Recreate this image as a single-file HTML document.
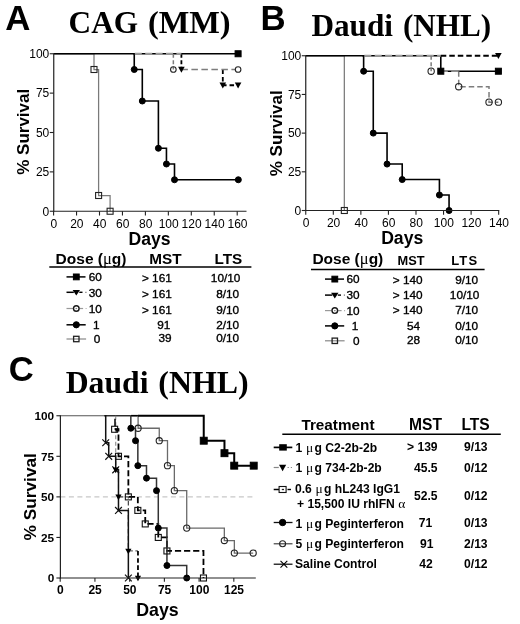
<!DOCTYPE html>
<html><head><meta charset="utf-8"><title>Figure</title>
<style>
html,body{margin:0;padding:0;background:#fff;}
body{width:520px;height:624px;overflow:hidden;font-family:"Liberation Sans",sans-serif;}
svg{display:block;will-change:transform;}
</style></head><body>
<svg width="520" height="624" viewBox="0 0 520 624">
<rect width="520" height="624" fill="#fff"/>
<g>
<text x="5.30" y="29.50" font-family='"Liberation Sans", sans-serif' font-size="34.8" font-weight="bold" text-anchor="start" fill="#000">A</text>
<text x="68.60" y="33.40" font-family='"Liberation Serif", serif' font-size="31.3" font-weight="bold" text-anchor="start" fill="#000">CAG</text>
<text x="147.90" y="33.40" font-family='"Liberation Serif", serif' font-size="32.4" font-weight="bold" text-anchor="start" fill="#000">(MM)</text>
<path d="M53.75 53.75 L94.00 53.75 L94.00 69.50 L98.60 69.50 L98.60 195.50 L110.10 195.50 L110.10 211.25" fill="none" stroke="#7a7a7a" stroke-width="1.25" stroke-linejoin="miter"/>
<path d="M53.75 53.75 L238.09 53.75" fill="none" stroke="#000" stroke-width="1.6" stroke-linejoin="miter"/>
<path d="M133.10 53.75 L134.25 53.75 L134.25 69.50 L142.30 69.50 L142.30 101.00 L158.40 101.00 L158.40 148.25 L166.45 148.25 L166.45 164.00 L174.50 164.00 L174.50 179.75 L238.32 179.75" fill="none" stroke="#000" stroke-width="1.6" stroke-linejoin="miter"/>
<path d="M181.40 53.75 L181.40 69.50" fill="none" stroke="#000" stroke-width="1.8" stroke-dasharray="4 2.5" stroke-linejoin="miter"/>
<path d="M222.80 69.50 L222.80 85.25 L238.09 85.25" fill="none" stroke="#000" stroke-width="1.8" stroke-dasharray="4.5 3" stroke-linejoin="miter"/>
<path d="M134.82 53.75 L181.40 53.75" fill="none" stroke="#9c9c9c" stroke-width="1.8" stroke-dasharray="7 3.4" stroke-linejoin="miter"/>
<path d="M173.35 53.75 L173.35 69.50" fill="none" stroke="#7d7d7d" stroke-width="1.5" stroke-dasharray="4 2.5" stroke-linejoin="miter"/>
<path d="M181.40 69.50 L234.99 69.50" fill="none" stroke="#7d7d7d" stroke-width="1.5" stroke-dasharray="6.5 3.5" stroke-linejoin="miter"/>
<rect x="91.00" y="66.50" width="6.00" height="6.00" fill="none" stroke="#222" stroke-width="1.1"/>
<rect x="95.60" y="192.50" width="6.00" height="6.00" fill="none" stroke="#222" stroke-width="1.1"/>
<rect x="107.10" y="208.25" width="6.00" height="6.00" fill="none" stroke="#222" stroke-width="1.1"/>
<circle cx="134.25" cy="69.50" r="3.0" fill="#000" stroke="#000" stroke-width="1"/>
<circle cx="142.30" cy="101.00" r="3.0" fill="#000" stroke="#000" stroke-width="1"/>
<circle cx="158.40" cy="148.25" r="3.0" fill="#000" stroke="#000" stroke-width="1"/>
<circle cx="166.45" cy="164.00" r="3.0" fill="#000" stroke="#000" stroke-width="1"/>
<circle cx="174.50" cy="179.75" r="3.0" fill="#000" stroke="#000" stroke-width="1"/>
<circle cx="238.32" cy="179.75" r="3.0" fill="#000" stroke="#000" stroke-width="1"/>
<rect x="235.09" y="50.75" width="6.00" height="6.00" fill="#000" stroke="#000" stroke-width="1"/>
<path d="M178.10 66.86 L184.70 66.86 L181.40 72.80 Z" fill="#000"/>
<path d="M219.50 82.61 L226.10 82.61 L222.80 88.55 Z" fill="#000"/>
<path d="M234.79 82.61 L241.40 82.61 L238.09 88.55 Z" fill="#000"/>
<circle cx="173.35" cy="69.50" r="2.8" fill="none" stroke="#222" stroke-width="1.1"/>
<circle cx="238.09" cy="69.50" r="2.8" fill="none" stroke="#222" stroke-width="1.1"/>
<line x1="53.75" y1="53.25" x2="53.75" y2="211.85" stroke="#222" stroke-width="1.2" stroke-linecap="butt"/>
<line x1="53.15" y1="211.25" x2="246.50" y2="211.25" stroke="#222" stroke-width="1.2" stroke-linecap="butt"/>
<line x1="49.75" y1="211.25" x2="53.75" y2="211.25" stroke="#222" stroke-width="1.1" stroke-linecap="butt"/>
<text x="49.25" y="215.55" font-family='"Liberation Sans", sans-serif' font-size="12" font-weight="normal" text-anchor="end" fill="#000">0</text>
<line x1="49.75" y1="171.88" x2="53.75" y2="171.88" stroke="#222" stroke-width="1.1" stroke-linecap="butt"/>
<text x="49.25" y="176.18" font-family='"Liberation Sans", sans-serif' font-size="12" font-weight="normal" text-anchor="end" fill="#000">25</text>
<line x1="49.75" y1="132.50" x2="53.75" y2="132.50" stroke="#222" stroke-width="1.1" stroke-linecap="butt"/>
<text x="49.25" y="136.80" font-family='"Liberation Sans", sans-serif' font-size="12" font-weight="normal" text-anchor="end" fill="#000">50</text>
<line x1="49.75" y1="93.12" x2="53.75" y2="93.12" stroke="#222" stroke-width="1.1" stroke-linecap="butt"/>
<text x="49.25" y="97.42" font-family='"Liberation Sans", sans-serif' font-size="12" font-weight="normal" text-anchor="end" fill="#000">75</text>
<line x1="49.75" y1="53.75" x2="53.75" y2="53.75" stroke="#222" stroke-width="1.1" stroke-linecap="butt"/>
<text x="49.25" y="58.05" font-family='"Liberation Sans", sans-serif' font-size="12" font-weight="normal" text-anchor="end" fill="#000">100</text>
<line x1="53.60" y1="211.25" x2="53.60" y2="215.55" stroke="#222" stroke-width="1.1" stroke-linecap="butt"/>
<text x="53.90" y="227.65" font-family='"Liberation Sans", sans-serif' font-size="12" font-weight="normal" text-anchor="middle" fill="#000">0</text>
<line x1="76.55" y1="211.25" x2="76.55" y2="215.55" stroke="#222" stroke-width="1.1" stroke-linecap="butt"/>
<text x="76.85" y="227.65" font-family='"Liberation Sans", sans-serif' font-size="12" font-weight="normal" text-anchor="middle" fill="#000">20</text>
<line x1="99.50" y1="211.25" x2="99.50" y2="215.55" stroke="#222" stroke-width="1.1" stroke-linecap="butt"/>
<text x="99.80" y="227.65" font-family='"Liberation Sans", sans-serif' font-size="12" font-weight="normal" text-anchor="middle" fill="#000">40</text>
<line x1="122.45" y1="211.25" x2="122.45" y2="215.55" stroke="#222" stroke-width="1.1" stroke-linecap="butt"/>
<text x="122.75" y="227.65" font-family='"Liberation Sans", sans-serif' font-size="12" font-weight="normal" text-anchor="middle" fill="#000">60</text>
<line x1="145.40" y1="211.25" x2="145.40" y2="215.55" stroke="#222" stroke-width="1.1" stroke-linecap="butt"/>
<text x="145.70" y="227.65" font-family='"Liberation Sans", sans-serif' font-size="12" font-weight="normal" text-anchor="middle" fill="#000">80</text>
<line x1="168.35" y1="211.25" x2="168.35" y2="215.55" stroke="#222" stroke-width="1.1" stroke-linecap="butt"/>
<text x="168.65" y="227.65" font-family='"Liberation Sans", sans-serif' font-size="12" font-weight="normal" text-anchor="middle" fill="#000">100</text>
<line x1="191.30" y1="211.25" x2="191.30" y2="215.55" stroke="#222" stroke-width="1.1" stroke-linecap="butt"/>
<text x="191.60" y="227.65" font-family='"Liberation Sans", sans-serif' font-size="12" font-weight="normal" text-anchor="middle" fill="#000">120</text>
<line x1="214.25" y1="211.25" x2="214.25" y2="215.55" stroke="#222" stroke-width="1.1" stroke-linecap="butt"/>
<text x="214.55" y="227.65" font-family='"Liberation Sans", sans-serif' font-size="12" font-weight="normal" text-anchor="middle" fill="#000">140</text>
<line x1="237.20" y1="211.25" x2="237.20" y2="215.55" stroke="#222" stroke-width="1.1" stroke-linecap="butt"/>
<text x="237.50" y="227.65" font-family='"Liberation Sans", sans-serif' font-size="12" font-weight="normal" text-anchor="middle" fill="#000">160</text>
<text x="149.60" y="244.60" font-family='"Liberation Sans", sans-serif' font-size="17.6" font-weight="bold" text-anchor="middle" fill="#000">Days</text>
<text transform="translate(29.3,131.8) rotate(-90)" font-family='"Liberation Sans", sans-serif' font-size="17" font-weight="bold" text-anchor="middle">% Survival</text>
<text x="260.40" y="29.50" font-family='"Liberation Sans", sans-serif' font-size="34.8" font-weight="bold" text-anchor="start" fill="#000">B</text>
<text x="311.50" y="35.50" font-family='"Liberation Serif", serif' font-size="31.2" font-weight="bold" text-anchor="start" fill="#000">Daudi</text>
<text x="402.90" y="35.50" font-family='"Liberation Serif", serif' font-size="31.2" font-weight="bold" text-anchor="start" fill="#000">(NHL)</text>
<path d="M305.75 55.75 L344.33 55.75 L344.33 210.50" fill="none" stroke="#7a7a7a" stroke-width="1.25" stroke-linejoin="miter"/>
<path d="M305.75 55.75 L440.79 55.75 L440.79 71.22 L498.39 71.22" fill="none" stroke="#000" stroke-width="1.6" stroke-linejoin="miter"/>
<path d="M362.25 55.75 L363.63 55.75 L363.63 71.22 L373.27 71.22 L373.27 133.12 L387.05 133.12 L387.05 164.07 L402.21 164.07 L402.21 179.55 L439.42 179.55 L439.42 195.03 L449.06 195.03 L449.06 210.50" fill="none" stroke="#000" stroke-width="1.6" stroke-linejoin="miter"/>
<path d="M440.79 55.75 L498.39 55.75" fill="none" stroke="#000" stroke-width="1.8" stroke-dasharray="5.5 3" stroke-linejoin="miter"/>
<path d="M364.31 55.75 L440.79 55.75" fill="none" stroke="#9c9c9c" stroke-width="1.8" stroke-dasharray="7 3.4" stroke-linejoin="miter"/>
<path d="M431.15 55.75 L431.15 71.22" fill="none" stroke="#7d7d7d" stroke-width="1.5" stroke-dasharray="4 2.5" stroke-linejoin="miter"/>
<path d="M440.79 71.22 L458.71 71.22" fill="none" stroke="#8c8c8c" stroke-width="1.7" stroke-dasharray="7 3.4" stroke-linejoin="miter"/>
<path d="M458.71 71.22 L458.71 86.70 L489.02 86.70 L489.02 102.17 L498.39 102.17" fill="none" stroke="#7d7d7d" stroke-width="1.5" stroke-dasharray="5.5 3" stroke-linejoin="miter"/>
<rect x="341.33" y="207.50" width="6.00" height="6.00" fill="none" stroke="#222" stroke-width="1.1"/>
<circle cx="363.63" cy="71.22" r="3.0" fill="#000" stroke="#000" stroke-width="1"/>
<circle cx="373.27" cy="133.12" r="3.0" fill="#000" stroke="#000" stroke-width="1"/>
<circle cx="387.05" cy="164.07" r="3.0" fill="#000" stroke="#000" stroke-width="1"/>
<circle cx="402.21" cy="179.55" r="3.0" fill="#000" stroke="#000" stroke-width="1"/>
<circle cx="439.42" cy="195.03" r="3.0" fill="#000" stroke="#000" stroke-width="1"/>
<circle cx="449.06" cy="210.50" r="3.0" fill="#000" stroke="#000" stroke-width="1"/>
<rect x="437.79" y="68.22" width="6.00" height="6.00" fill="#000" stroke="#000" stroke-width="1"/>
<rect x="495.39" y="68.22" width="6.00" height="6.00" fill="#000" stroke="#000" stroke-width="1"/>
<path d="M495.09 53.11 L501.69 53.11 L498.39 59.05 Z" fill="#000"/>
<circle cx="431.15" cy="71.22" r="3.15" fill="none" stroke="#222" stroke-width="1.1"/>
<circle cx="458.71" cy="86.70" r="3.15" fill="none" stroke="#222" stroke-width="1.1"/>
<circle cx="489.02" cy="102.17" r="3.15" fill="none" stroke="#222" stroke-width="1.1"/>
<circle cx="498.39" cy="102.17" r="3.15" fill="none" stroke="#222" stroke-width="1.1"/>
<line x1="305.75" y1="55.25" x2="305.75" y2="211.10" stroke="#222" stroke-width="1.2" stroke-linecap="butt"/>
<line x1="305.15" y1="210.50" x2="499.27" y2="210.50" stroke="#222" stroke-width="1.2" stroke-linecap="butt"/>
<line x1="301.75" y1="210.50" x2="305.75" y2="210.50" stroke="#222" stroke-width="1.1" stroke-linecap="butt"/>
<text x="301.25" y="214.80" font-family='"Liberation Sans", sans-serif' font-size="12" font-weight="normal" text-anchor="end" fill="#000">0</text>
<line x1="301.75" y1="171.81" x2="305.75" y2="171.81" stroke="#222" stroke-width="1.1" stroke-linecap="butt"/>
<text x="301.25" y="176.11" font-family='"Liberation Sans", sans-serif' font-size="12" font-weight="normal" text-anchor="end" fill="#000">25</text>
<line x1="301.75" y1="133.12" x2="305.75" y2="133.12" stroke="#222" stroke-width="1.1" stroke-linecap="butt"/>
<text x="301.25" y="137.43" font-family='"Liberation Sans", sans-serif' font-size="12" font-weight="normal" text-anchor="end" fill="#000">50</text>
<line x1="301.75" y1="94.44" x2="305.75" y2="94.44" stroke="#222" stroke-width="1.1" stroke-linecap="butt"/>
<text x="301.25" y="98.74" font-family='"Liberation Sans", sans-serif' font-size="12" font-weight="normal" text-anchor="end" fill="#000">75</text>
<line x1="301.75" y1="55.75" x2="305.75" y2="55.75" stroke="#222" stroke-width="1.1" stroke-linecap="butt"/>
<text x="301.25" y="60.05" font-family='"Liberation Sans", sans-serif' font-size="12" font-weight="normal" text-anchor="end" fill="#000">100</text>
<line x1="305.75" y1="210.50" x2="305.75" y2="214.80" stroke="#222" stroke-width="1.1" stroke-linecap="butt"/>
<text x="306.05" y="226.90" font-family='"Liberation Sans", sans-serif' font-size="12" font-weight="normal" text-anchor="middle" fill="#000">0</text>
<line x1="333.31" y1="210.50" x2="333.31" y2="214.80" stroke="#222" stroke-width="1.1" stroke-linecap="butt"/>
<text x="333.61" y="226.90" font-family='"Liberation Sans", sans-serif' font-size="12" font-weight="normal" text-anchor="middle" fill="#000">20</text>
<line x1="360.87" y1="210.50" x2="360.87" y2="214.80" stroke="#222" stroke-width="1.1" stroke-linecap="butt"/>
<text x="361.17" y="226.90" font-family='"Liberation Sans", sans-serif' font-size="12" font-weight="normal" text-anchor="middle" fill="#000">40</text>
<line x1="388.43" y1="210.50" x2="388.43" y2="214.80" stroke="#222" stroke-width="1.1" stroke-linecap="butt"/>
<text x="388.73" y="226.90" font-family='"Liberation Sans", sans-serif' font-size="12" font-weight="normal" text-anchor="middle" fill="#000">60</text>
<line x1="415.99" y1="210.50" x2="415.99" y2="214.80" stroke="#222" stroke-width="1.1" stroke-linecap="butt"/>
<text x="416.29" y="226.90" font-family='"Liberation Sans", sans-serif' font-size="12" font-weight="normal" text-anchor="middle" fill="#000">80</text>
<line x1="443.55" y1="210.50" x2="443.55" y2="214.80" stroke="#222" stroke-width="1.1" stroke-linecap="butt"/>
<text x="443.85" y="226.90" font-family='"Liberation Sans", sans-serif' font-size="12" font-weight="normal" text-anchor="middle" fill="#000">100</text>
<line x1="471.11" y1="210.50" x2="471.11" y2="214.80" stroke="#222" stroke-width="1.1" stroke-linecap="butt"/>
<text x="471.41" y="226.90" font-family='"Liberation Sans", sans-serif' font-size="12" font-weight="normal" text-anchor="middle" fill="#000">120</text>
<line x1="498.67" y1="210.50" x2="498.67" y2="214.80" stroke="#222" stroke-width="1.1" stroke-linecap="butt"/>
<text x="498.97" y="226.90" font-family='"Liberation Sans", sans-serif' font-size="12" font-weight="normal" text-anchor="middle" fill="#000">140</text>
<text x="402.20" y="243.60" font-family='"Liberation Sans", sans-serif' font-size="17.6" font-weight="bold" text-anchor="middle" fill="#000">Days</text>
<text transform="translate(282,133.3) rotate(-90)" font-family='"Liberation Sans", sans-serif' font-size="17" font-weight="bold" text-anchor="middle">% Survival</text>
<text x="55.60" y="263.60" font-family='"Liberation Sans", sans-serif' font-size="15.5" font-weight="bold" text-anchor="start" fill="#000">Dose (<tspan font-family='"Liberation Serif",serif' font-weight="normal" font-size="16.5">&#956;</tspan>g)</text>
<text x="149.20" y="263.60" font-family='"Liberation Sans", sans-serif' font-size="15.3" font-weight="bold" text-anchor="start" fill="#000">MST</text>
<text x="214.50" y="263.60" font-family='"Liberation Sans", sans-serif' font-size="15.3" font-weight="bold" text-anchor="start" fill="#000">LTS</text>
<line x1="49.30" y1="266.90" x2="251.40" y2="266.90" stroke="#000" stroke-width="1.5" stroke-linecap="butt"/>
<line x1="66.50" y1="276.90" x2="85.50" y2="276.90" stroke="#000" stroke-width="1.5" stroke-linecap="butt"/>
<rect x="73.40" y="274.00" width="5.80" height="5.80" fill="#000" stroke="#000" stroke-width="1"/>
<text x="101.80" y="281.30" font-family='"Liberation Sans", sans-serif' font-size="11.8" font-weight="normal" text-anchor="end" fill="#000" stroke="#000" stroke-width="0.35">60</text>
<text x="171.80" y="281.90" font-family='"Liberation Sans", sans-serif' font-size="11.8" font-weight="normal" text-anchor="end" fill="#000" stroke="#000" stroke-width="0.35">&gt; 161</text>
<text x="240.40" y="281.90" font-family='"Liberation Sans", sans-serif' font-size="11.8" font-weight="normal" text-anchor="end" fill="#000" stroke="#000" stroke-width="0.35">10/10</text>
<line x1="66.50" y1="292.30" x2="73.80" y2="292.30" stroke="#000" stroke-width="1.5" stroke-linecap="butt"/>
<path d="M72.60 289.90 L80.00 289.90 L76.30 295.60 Z" fill="#000"/>
<line x1="79.30" y1="292.30" x2="82.50" y2="292.30" stroke="#000" stroke-width="1.4" stroke-linecap="butt"/>
<line x1="85.30" y1="292.30" x2="86.50" y2="292.30" stroke="#777" stroke-width="1.2" stroke-linecap="butt"/>
<text x="101.80" y="297.30" font-family='"Liberation Sans", sans-serif' font-size="11.8" font-weight="normal" text-anchor="end" fill="#000" stroke="#000" stroke-width="0.35">30</text>
<text x="171.80" y="298.20" font-family='"Liberation Sans", sans-serif' font-size="11.8" font-weight="normal" text-anchor="end" fill="#000" stroke="#000" stroke-width="0.35">&gt; 161</text>
<text x="239.20" y="298.20" font-family='"Liberation Sans", sans-serif' font-size="11.8" font-weight="normal" text-anchor="end" fill="#000" stroke="#000" stroke-width="0.35">8/10</text>
<line x1="66.50" y1="308.50" x2="73.00" y2="308.50" stroke="#999" stroke-width="1.2" stroke-linecap="butt"/>
<line x1="75.50" y1="308.50" x2="77.10" y2="308.50" stroke="#888" stroke-width="1.2" stroke-linecap="butt"/>
<line x1="79.60" y1="308.50" x2="83.10" y2="308.50" stroke="#999" stroke-width="1.2" stroke-linecap="butt"/>
<line x1="85.60" y1="308.50" x2="86.60" y2="308.50" stroke="#aaa" stroke-width="1.2" stroke-linecap="butt"/>
<circle cx="76.30" cy="308.50" r="2.8" fill="none" stroke="#1a1a1a" stroke-width="1.4"/>
<text x="101.80" y="312.90" font-family='"Liberation Sans", sans-serif' font-size="11.8" font-weight="normal" text-anchor="end" fill="#000" stroke="#000" stroke-width="0.35">10</text>
<text x="171.80" y="313.50" font-family='"Liberation Sans", sans-serif' font-size="11.8" font-weight="normal" text-anchor="end" fill="#000" stroke="#000" stroke-width="0.35">&gt; 161</text>
<text x="239.20" y="313.50" font-family='"Liberation Sans", sans-serif' font-size="11.8" font-weight="normal" text-anchor="end" fill="#000" stroke="#000" stroke-width="0.35">9/10</text>
<line x1="66.50" y1="324.80" x2="85.70" y2="324.80" stroke="#000" stroke-width="1.5" stroke-linecap="butt"/>
<circle cx="76.30" cy="324.80" r="3.1" fill="#000" stroke="#000" stroke-width="1"/>
<text x="99.60" y="329.00" font-family='"Liberation Sans", sans-serif' font-size="11.8" font-weight="normal" text-anchor="end" fill="#000" stroke="#000" stroke-width="0.35">1</text>
<text x="170.30" y="329.20" font-family='"Liberation Sans", sans-serif' font-size="11.8" font-weight="normal" text-anchor="end" fill="#000" stroke="#000" stroke-width="0.35">91</text>
<text x="239.20" y="329.40" font-family='"Liberation Sans", sans-serif' font-size="11.8" font-weight="normal" text-anchor="end" fill="#000" stroke="#000" stroke-width="0.35">2/10</text>
<line x1="66.50" y1="339.00" x2="86.10" y2="339.00" stroke="#888" stroke-width="1.2" stroke-linecap="butt"/>
<rect x="73.60" y="336.30" width="5.40" height="5.40" fill="none" stroke="#222" stroke-width="1.3"/>
<text x="100.40" y="343.20" font-family='"Liberation Sans", sans-serif' font-size="11.8" font-weight="normal" text-anchor="end" fill="#000" stroke="#000" stroke-width="0.35">0</text>
<text x="171.60" y="342.20" font-family='"Liberation Sans", sans-serif' font-size="11.8" font-weight="normal" text-anchor="end" fill="#000" stroke="#000" stroke-width="0.35">39</text>
<text x="239.20" y="342.00" font-family='"Liberation Sans", sans-serif' font-size="11.8" font-weight="normal" text-anchor="end" fill="#000" stroke="#000" stroke-width="0.35">0/10</text>
<text x="312.40" y="263.90" font-family='"Liberation Sans", sans-serif' font-size="15.5" font-weight="bold" text-anchor="start" fill="#000">Dose (<tspan font-family='"Liberation Serif",serif' font-weight="normal" font-size="16.5">&#956;</tspan>g)</text>
<text x="397.60" y="264.50" font-family='"Liberation Sans", sans-serif' font-size="12.8" font-weight="bold" text-anchor="start" fill="#000">MST</text>
<text x="451.20" y="264.50" font-family='"Liberation Sans", sans-serif' font-size="13.0" font-weight="bold" text-anchor="start" fill="#000" letter-spacing="1.2">LTS</text>
<line x1="311.00" y1="269.50" x2="484.60" y2="269.50" stroke="#000" stroke-width="1.5" stroke-linecap="butt"/>
<line x1="325.00" y1="279.10" x2="344.00" y2="279.10" stroke="#000" stroke-width="1.5" stroke-linecap="butt"/>
<rect x="331.90" y="276.20" width="5.80" height="5.80" fill="#000" stroke="#000" stroke-width="1"/>
<text x="359.60" y="283.30" font-family='"Liberation Sans", sans-serif' font-size="11.8" font-weight="normal" text-anchor="end" fill="#000" stroke="#000" stroke-width="0.35">60</text>
<text x="422.60" y="283.60" font-family='"Liberation Sans", sans-serif' font-size="11.8" font-weight="normal" text-anchor="end" fill="#000" stroke="#000" stroke-width="0.35">&gt; 140</text>
<text x="478.20" y="283.60" font-family='"Liberation Sans", sans-serif' font-size="11.8" font-weight="normal" text-anchor="end" fill="#000" stroke="#000" stroke-width="0.35">9/10</text>
<line x1="325.00" y1="295.10" x2="332.30" y2="295.10" stroke="#000" stroke-width="1.5" stroke-linecap="butt"/>
<path d="M331.10 292.70 L338.50 292.70 L334.80 298.40 Z" fill="#000"/>
<line x1="337.80" y1="295.10" x2="341.00" y2="295.10" stroke="#000" stroke-width="1.4" stroke-linecap="butt"/>
<line x1="343.80" y1="295.10" x2="345.00" y2="295.10" stroke="#777" stroke-width="1.2" stroke-linecap="butt"/>
<text x="359.60" y="299.30" font-family='"Liberation Sans", sans-serif' font-size="11.8" font-weight="normal" text-anchor="end" fill="#000" stroke="#000" stroke-width="0.35">30</text>
<text x="422.60" y="299.30" font-family='"Liberation Sans", sans-serif' font-size="11.8" font-weight="normal" text-anchor="end" fill="#000" stroke="#000" stroke-width="0.35">&gt; 140</text>
<text x="479.40" y="299.40" font-family='"Liberation Sans", sans-serif' font-size="11.8" font-weight="normal" text-anchor="end" fill="#000" stroke="#000" stroke-width="0.35">10/10</text>
<line x1="325.00" y1="310.60" x2="331.50" y2="310.60" stroke="#999" stroke-width="1.2" stroke-linecap="butt"/>
<line x1="334.00" y1="310.60" x2="335.60" y2="310.60" stroke="#888" stroke-width="1.2" stroke-linecap="butt"/>
<line x1="338.10" y1="310.60" x2="341.60" y2="310.60" stroke="#999" stroke-width="1.2" stroke-linecap="butt"/>
<line x1="344.10" y1="310.60" x2="345.10" y2="310.60" stroke="#aaa" stroke-width="1.2" stroke-linecap="butt"/>
<circle cx="334.80" cy="310.60" r="2.8" fill="none" stroke="#1a1a1a" stroke-width="1.4"/>
<text x="359.60" y="314.80" font-family='"Liberation Sans", sans-serif' font-size="11.8" font-weight="normal" text-anchor="end" fill="#000" stroke="#000" stroke-width="0.35">10</text>
<text x="422.60" y="314.20" font-family='"Liberation Sans", sans-serif' font-size="11.8" font-weight="normal" text-anchor="end" fill="#000" stroke="#000" stroke-width="0.35">&gt; 140</text>
<text x="478.20" y="314.20" font-family='"Liberation Sans", sans-serif' font-size="11.8" font-weight="normal" text-anchor="end" fill="#000" stroke="#000" stroke-width="0.35">7/10</text>
<line x1="325.00" y1="325.90" x2="344.20" y2="325.90" stroke="#000" stroke-width="1.5" stroke-linecap="butt"/>
<circle cx="334.80" cy="325.90" r="3.1" fill="#000" stroke="#000" stroke-width="1"/>
<text x="358.40" y="330.10" font-family='"Liberation Sans", sans-serif' font-size="11.8" font-weight="normal" text-anchor="end" fill="#000" stroke="#000" stroke-width="0.35">1</text>
<text x="420.10" y="329.50" font-family='"Liberation Sans", sans-serif' font-size="11.8" font-weight="normal" text-anchor="end" fill="#000" stroke="#000" stroke-width="0.35">54</text>
<text x="478.20" y="329.50" font-family='"Liberation Sans", sans-serif' font-size="11.8" font-weight="normal" text-anchor="end" fill="#000" stroke="#000" stroke-width="0.35">0/10</text>
<line x1="325.00" y1="340.80" x2="344.60" y2="340.80" stroke="#888" stroke-width="1.2" stroke-linecap="butt"/>
<rect x="332.10" y="338.10" width="5.40" height="5.40" fill="none" stroke="#222" stroke-width="1.3"/>
<text x="359.50" y="345.00" font-family='"Liberation Sans", sans-serif' font-size="11.8" font-weight="normal" text-anchor="end" fill="#000" stroke="#000" stroke-width="0.35">0</text>
<text x="420.10" y="343.80" font-family='"Liberation Sans", sans-serif' font-size="11.8" font-weight="normal" text-anchor="end" fill="#000" stroke="#000" stroke-width="0.35">28</text>
<text x="478.20" y="344.40" font-family='"Liberation Sans", sans-serif' font-size="11.8" font-weight="normal" text-anchor="end" fill="#000" stroke="#000" stroke-width="0.35">0/10</text>
<text x="8.80" y="381.00" font-family='"Liberation Sans", sans-serif' font-size="34.6" font-weight="bold" text-anchor="start" fill="#000">C</text>
<text x="65.70" y="393.30" font-family='"Liberation Serif", serif' font-size="31.7" font-weight="bold" text-anchor="start" fill="#000">Daudi</text>
<text x="158.30" y="393.30" font-family='"Liberation Serif", serif' font-size="31.9" font-weight="bold" text-anchor="start" fill="#000">(NHL)</text>
<line x1="60.40" y1="496.88" x2="252.50" y2="496.88" stroke="#c8c8c8" stroke-width="1.1" stroke-dasharray="5 3.5" stroke-linecap="butt"/>
<line x1="60.40" y1="415.75" x2="105.71" y2="415.75" stroke="#555" stroke-width="1.2" stroke-linecap="butt"/>
<line x1="105.71" y1="415.75" x2="130.83" y2="415.75" stroke="#222" stroke-width="1.4" stroke-linecap="butt"/>
<line x1="130.83" y1="415.75" x2="138.66" y2="415.75" stroke="#000" stroke-width="1.7" stroke-linecap="butt"/>
<path d="M138.11 415.75 L138.11 415.75 L138.11 428.23 L159.26 428.23 L159.26 440.71 L167.49 440.71 L167.49 465.67 L174.36 465.67 L174.36 490.63 L186.72 490.63 L186.72 528.08 L224.34 528.08 L224.34 540.56 L234.36 540.56 L234.36 553.04 L253.17 553.04" fill="none" stroke="#6a6a6a" stroke-width="1.3" stroke-linejoin="miter"/>
<path d="M115.73 415.75 L115.73 415.75 L115.73 469.83 L118.48 469.83 L118.48 496.88" fill="none" stroke="#8a8a8a" stroke-width="1.1" stroke-dasharray="4 2.5" stroke-linejoin="miter"/>
<path d="M118.48 496.88 L128.36 496.88 L128.36 550.96" fill="none" stroke="#4a4a4a" stroke-width="1.25" stroke-dasharray="4.5 2.5" stroke-linejoin="miter"/>
<path d="M128.36 550.96 L137.97 550.96" fill="none" stroke="#666" stroke-width="1.2" stroke-dasharray="4.5 2.5" stroke-linejoin="miter"/>
<path d="M137.97 550.96 L137.97 578.00" fill="none" stroke="#000" stroke-width="1.8" stroke-dasharray="4.6 2.6" stroke-linejoin="miter"/>
<path d="M104.34 415.75 L105.71 415.75 L105.71 442.79 L108.73 442.79 L108.73 456.31 L115.73 456.31 L115.73 469.83 L118.48 469.83 L118.48 510.40 L128.36 510.40 L128.36 578.00" fill="none" stroke="#111" stroke-width="1.5" stroke-linejoin="miter"/>
<line x1="115.00" y1="418.70" x2="115.00" y2="426.30" stroke="#111" stroke-width="1.6" stroke-linecap="butt"/>
<path d="M114.63 429.27 L118.48 429.27 L118.48 456.31 L128.36 456.31 L128.36 496.88 L137.84 496.88 L137.84 510.40 L145.25 510.40 L145.25 523.92 L158.29 523.92 L158.29 537.44 L166.94 537.44 L166.94 550.96 L203.47 550.96 L203.47 578.00" fill="none" stroke="#000" stroke-width="1.8" stroke-dasharray="6.2 2.9" stroke-dashoffset="0"/>
<path d="M130.83 415.75 L130.83 415.75 L130.83 428.23 L135.50 428.23 L135.50 440.71 L137.84 440.71 L137.84 465.67 L146.49 465.67 L146.49 478.15 L156.51 478.15 L156.51 490.63 L158.29 490.63 L158.29 528.08 L166.94 528.08 L166.94 565.52 L186.72 565.52 L186.72 578.00" fill="none" stroke="#333" stroke-width="1.5" stroke-linejoin="miter"/>
<path d="M138.11 415.75 L203.74 415.75 L203.74 440.71 L224.47 440.71 L224.47 453.19 L234.22 453.19 L234.22 465.67 L253.72 465.67" fill="none" stroke="#000" stroke-width="2.0" stroke-linejoin="miter"/>
<circle cx="138.11" cy="428.23" r="3.1" fill="none" stroke="#222" stroke-width="1.1"/>
<circle cx="159.26" cy="440.71" r="3.1" fill="none" stroke="#222" stroke-width="1.1"/>
<circle cx="167.49" cy="465.67" r="3.1" fill="none" stroke="#222" stroke-width="1.1"/>
<circle cx="174.36" cy="490.63" r="3.1" fill="none" stroke="#222" stroke-width="1.1"/>
<circle cx="186.72" cy="528.08" r="3.1" fill="none" stroke="#222" stroke-width="1.1"/>
<circle cx="224.34" cy="540.56" r="3.1" fill="none" stroke="#222" stroke-width="1.1"/>
<circle cx="234.36" cy="553.04" r="3.1" fill="none" stroke="#222" stroke-width="1.1"/>
<circle cx="253.17" cy="553.04" r="3.1" fill="none" stroke="#222" stroke-width="1.1"/>
<rect x="111.63" y="426.27" width="6.00" height="6.00" fill="none" stroke="#111" stroke-width="1.1"/>
<rect x="115.48" y="453.31" width="6.00" height="6.00" fill="none" stroke="#111" stroke-width="1.1"/>
<rect x="125.36" y="493.88" width="6.00" height="6.00" fill="none" stroke="#111" stroke-width="1.1"/>
<rect x="134.84" y="507.40" width="6.00" height="6.00" fill="none" stroke="#111" stroke-width="1.1"/>
<rect x="142.25" y="520.92" width="6.00" height="6.00" fill="none" stroke="#111" stroke-width="1.1"/>
<rect x="155.29" y="534.44" width="6.00" height="6.00" fill="none" stroke="#111" stroke-width="1.1"/>
<rect x="163.94" y="547.96" width="6.00" height="6.00" fill="none" stroke="#111" stroke-width="1.1"/>
<rect x="200.47" y="575.00" width="6.00" height="6.00" fill="none" stroke="#111" stroke-width="1.1"/>
<path d="M102.31 439.39 L109.11 446.19 M102.31 446.19 L109.11 439.39" stroke="#111" stroke-width="1.2" fill="none"/>
<path d="M105.33 452.91 L112.13 459.71 M105.33 459.71 L112.13 452.91" stroke="#111" stroke-width="1.2" fill="none"/>
<path d="M112.33 466.43 L119.13 473.23 M112.33 473.23 L119.13 466.43" stroke="#111" stroke-width="1.2" fill="none"/>
<path d="M115.08 507.00 L121.88 513.80 M115.08 513.80 L121.88 507.00" stroke="#111" stroke-width="1.2" fill="none"/>
<path d="M124.96 574.60 L131.76 581.40 M124.96 581.40 L131.76 574.60" stroke="#111" stroke-width="1.2" fill="none"/>
<path d="M114.63 428.48 L119.03 428.48 L116.83 432.44 Z" fill="#000"/>
<path d="M112.63 467.55 L118.83 467.55 L115.73 473.13 Z" fill="#000"/>
<path d="M115.38 494.59 L121.58 494.59 L118.48 500.18 Z" fill="#000"/>
<path d="M125.26 548.68 L131.46 548.68 L128.36 554.26 Z" fill="#000"/>
<path d="M134.87 575.72 L141.07 575.72 L137.97 581.30 Z" fill="#000"/>
<circle cx="130.83" cy="428.23" r="3.0" fill="#000" stroke="#000" stroke-width="1"/>
<circle cx="135.50" cy="440.71" r="3.0" fill="#000" stroke="#000" stroke-width="1"/>
<circle cx="137.84" cy="465.67" r="3.0" fill="#000" stroke="#000" stroke-width="1"/>
<circle cx="146.49" cy="478.15" r="3.0" fill="#000" stroke="#000" stroke-width="1"/>
<circle cx="156.51" cy="490.63" r="3.0" fill="#000" stroke="#000" stroke-width="1"/>
<circle cx="158.29" cy="528.08" r="3.0" fill="#000" stroke="#000" stroke-width="1"/>
<circle cx="166.94" cy="565.52" r="3.0" fill="#000" stroke="#000" stroke-width="1"/>
<circle cx="186.72" cy="578.00" r="3.0" fill="#000" stroke="#000" stroke-width="1"/>
<rect x="200.29" y="437.26" width="6.90" height="6.90" fill="#000" stroke="#000" stroke-width="1"/>
<rect x="221.02" y="449.74" width="6.90" height="6.90" fill="#000" stroke="#000" stroke-width="1"/>
<rect x="230.77" y="462.22" width="6.90" height="6.90" fill="#000" stroke="#000" stroke-width="1"/>
<rect x="250.27" y="462.22" width="6.90" height="6.90" fill="#000" stroke="#000" stroke-width="1"/>
<line x1="60.40" y1="415.25" x2="60.40" y2="578.60" stroke="#222" stroke-width="1.2" stroke-linecap="butt"/>
<line x1="59.80" y1="578.00" x2="255.80" y2="578.00" stroke="#222" stroke-width="1.2" stroke-linecap="butt"/>
<line x1="56.40" y1="578.00" x2="60.40" y2="578.00" stroke="#222" stroke-width="1.1" stroke-linecap="butt"/>
<text x="54.20" y="582.20" font-family='"Liberation Sans", sans-serif' font-size="11.8" font-weight="bold" text-anchor="end" fill="#000">0</text>
<line x1="56.40" y1="537.44" x2="60.40" y2="537.44" stroke="#222" stroke-width="1.1" stroke-linecap="butt"/>
<text x="54.20" y="541.64" font-family='"Liberation Sans", sans-serif' font-size="11.8" font-weight="bold" text-anchor="end" fill="#000">25</text>
<line x1="56.40" y1="496.88" x2="60.40" y2="496.88" stroke="#222" stroke-width="1.1" stroke-linecap="butt"/>
<text x="54.20" y="501.07" font-family='"Liberation Sans", sans-serif' font-size="11.8" font-weight="bold" text-anchor="end" fill="#000">50</text>
<line x1="56.40" y1="456.31" x2="60.40" y2="456.31" stroke="#222" stroke-width="1.1" stroke-linecap="butt"/>
<text x="54.20" y="460.51" font-family='"Liberation Sans", sans-serif' font-size="11.8" font-weight="bold" text-anchor="end" fill="#000">75</text>
<line x1="56.40" y1="415.75" x2="60.40" y2="415.75" stroke="#222" stroke-width="1.1" stroke-linecap="butt"/>
<text x="54.20" y="419.95" font-family='"Liberation Sans", sans-serif' font-size="11.8" font-weight="bold" text-anchor="end" fill="#000">100</text>
<line x1="60.20" y1="578.00" x2="60.20" y2="581.80" stroke="#222" stroke-width="1.1" stroke-linecap="butt"/>
<text x="60.40" y="594.30" font-family='"Liberation Sans", sans-serif' font-size="12" font-weight="bold" text-anchor="middle" fill="#000">0</text>
<line x1="94.93" y1="578.00" x2="94.93" y2="581.80" stroke="#222" stroke-width="1.1" stroke-linecap="butt"/>
<text x="95.13" y="594.30" font-family='"Liberation Sans", sans-serif' font-size="12" font-weight="bold" text-anchor="middle" fill="#000">25</text>
<line x1="129.65" y1="578.00" x2="129.65" y2="581.80" stroke="#222" stroke-width="1.1" stroke-linecap="butt"/>
<text x="129.85" y="594.30" font-family='"Liberation Sans", sans-serif' font-size="12" font-weight="bold" text-anchor="middle" fill="#000">50</text>
<line x1="164.38" y1="578.00" x2="164.38" y2="581.80" stroke="#222" stroke-width="1.1" stroke-linecap="butt"/>
<text x="164.57" y="594.30" font-family='"Liberation Sans", sans-serif' font-size="12" font-weight="bold" text-anchor="middle" fill="#000">75</text>
<line x1="199.10" y1="578.00" x2="199.10" y2="581.80" stroke="#222" stroke-width="1.1" stroke-linecap="butt"/>
<text x="199.30" y="594.30" font-family='"Liberation Sans", sans-serif' font-size="12" font-weight="bold" text-anchor="middle" fill="#000">100</text>
<line x1="233.82" y1="578.00" x2="233.82" y2="581.80" stroke="#222" stroke-width="1.1" stroke-linecap="butt"/>
<text x="234.02" y="594.30" font-family='"Liberation Sans", sans-serif' font-size="12" font-weight="bold" text-anchor="middle" fill="#000">125</text>
<text x="157.50" y="615.80" font-family='"Liberation Sans", sans-serif' font-size="17.8" font-weight="bold" text-anchor="middle" fill="#000">Days</text>
<text transform="translate(35.8,496.8) rotate(-90)" font-family='"Liberation Sans", sans-serif' font-size="17.3" font-weight="bold" text-anchor="middle">% Survival</text>
<text x="301.40" y="429.50" font-family='"Liberation Sans", sans-serif' font-size="15.3" font-weight="bold" text-anchor="start" fill="#000">Treatment</text>
<text x="409.00" y="429.50" font-family='"Liberation Sans", sans-serif' font-size="15.6" font-weight="bold" text-anchor="start" fill="#000">MST</text>
<text x="461.40" y="429.50" font-family='"Liberation Sans", sans-serif' font-size="15.6" font-weight="bold" text-anchor="start" fill="#000">LTS</text>
<line x1="282.30" y1="434.30" x2="500.80" y2="434.30" stroke="#000" stroke-width="1.5" stroke-linecap="butt"/>
<line x1="273.70" y1="447.40" x2="292.30" y2="447.40" stroke="#000" stroke-width="1.7" stroke-linecap="butt"/>
<rect x="279.20" y="444.20" width="7.6" height="6.4" fill="#000"/>
<text x="295.60" y="452.40" font-family='"Liberation Sans", sans-serif' font-size="12.1" font-weight="bold" text-anchor="start" fill="#000">1 <tspan dx="0.4" font-family='"Liberation Serif",serif' font-weight="normal" font-size="13.5">&#956;</tspan><tspan dx="1.2">g</tspan> C2-2b-2b</text>
<text x="437.60" y="451.30" font-family='"Liberation Sans", sans-serif' font-size="12.1" font-weight="bold" text-anchor="end" fill="#000">&gt; 139</text>
<text x="487.60" y="450.60" font-family='"Liberation Sans", sans-serif' font-size="12.1" font-weight="bold" text-anchor="end" fill="#000">9/13</text>
<line x1="273.70" y1="467.50" x2="278.80" y2="467.50" stroke="#888" stroke-width="1.2" stroke-linecap="butt"/>
<path d="M279.00 464.82 L286.20 464.82 L282.60 471.30 Z" fill="#000"/>
<line x1="287.50" y1="467.50" x2="289.00" y2="467.50" stroke="#999" stroke-width="1.1" stroke-linecap="butt"/>
<line x1="290.80" y1="467.50" x2="292.00" y2="467.50" stroke="#888" stroke-width="1.2" stroke-linecap="butt"/>
<text x="295.60" y="472.00" font-family='"Liberation Sans", sans-serif' font-size="12.1" font-weight="bold" text-anchor="start" fill="#000">1 <tspan dx="0.4" font-family='"Liberation Serif",serif' font-weight="normal" font-size="13.5">&#956;</tspan><tspan dx="1.2">g</tspan> 734-2b-2b</text>
<text x="437.60" y="471.80" font-family='"Liberation Sans", sans-serif' font-size="12.1" font-weight="bold" text-anchor="end" fill="#000">45.5</text>
<text x="487.60" y="471.80" font-family='"Liberation Sans", sans-serif' font-size="12.1" font-weight="bold" text-anchor="end" fill="#000">0/12</text>
<line x1="273.70" y1="489.50" x2="279.00" y2="489.50" stroke="#000" stroke-width="1.5" stroke-linecap="butt"/>
<rect x="279.10" y="486.50" width="7.0" height="6.0" fill="none" stroke="#111" stroke-width="1.1"/>
<line x1="281.80" y1="489.50" x2="284.00" y2="489.50" stroke="#222" stroke-width="1.3" stroke-linecap="butt"/>
<line x1="287.50" y1="489.50" x2="291.00" y2="489.50" stroke="#000" stroke-width="1.4" stroke-linecap="butt"/>
<text x="295.00" y="493.30" font-family='"Liberation Sans", sans-serif' font-size="12.1" font-weight="bold" text-anchor="start" fill="#000">0.6 <tspan dx="0.4" font-family='"Liberation Serif",serif' font-weight="normal" font-size="13.5">&#956;</tspan><tspan dx="1.2">g</tspan> hL243 IgG1</text>
<text x="437.60" y="500.00" font-family='"Liberation Sans", sans-serif' font-size="12.1" font-weight="bold" text-anchor="end" fill="#000">52.5</text>
<text x="487.60" y="500.00" font-family='"Liberation Sans", sans-serif' font-size="12.1" font-weight="bold" text-anchor="end" fill="#000">0/12</text>
<line x1="273.70" y1="522.50" x2="292.50" y2="522.50" stroke="#111" stroke-width="1.3" stroke-linecap="butt"/>
<circle cx="282.60" cy="522.50" r="3.2" fill="#000" stroke="#000" stroke-width="1"/>
<text x="295.60" y="528.00" font-family='"Liberation Sans", sans-serif' font-size="12.1" font-weight="bold" text-anchor="start" fill="#000">1 <tspan dx="0.4" font-family='"Liberation Serif",serif' font-weight="normal" font-size="13.5">&#956;</tspan><tspan dx="1.2">g</tspan> Peginterferon</text>
<text x="425.50" y="526.80" font-family='"Liberation Sans", sans-serif' font-size="12.1" font-weight="bold" text-anchor="middle" fill="#000">71</text>
<text x="487.60" y="526.80" font-family='"Liberation Sans", sans-serif' font-size="12.1" font-weight="bold" text-anchor="end" fill="#000">0/13</text>
<line x1="273.70" y1="543.80" x2="292.50" y2="543.80" stroke="#333" stroke-width="1.1" stroke-linecap="butt"/>
<circle cx="282.60" cy="543.80" r="3.0" fill="none" stroke="#222" stroke-width="1.1"/>
<text x="295.60" y="548.00" font-family='"Liberation Sans", sans-serif' font-size="12.1" font-weight="bold" text-anchor="start" fill="#000">5 <tspan dx="0.4" font-family='"Liberation Serif",serif' font-weight="normal" font-size="13.5">&#956;</tspan><tspan dx="1.2">g</tspan> Peginterferon</text>
<text x="426.70" y="548.00" font-family='"Liberation Sans", sans-serif' font-size="12.1" font-weight="bold" text-anchor="middle" fill="#000">91</text>
<text x="487.60" y="548.00" font-family='"Liberation Sans", sans-serif' font-size="12.1" font-weight="bold" text-anchor="end" fill="#000">2/13</text>
<line x1="273.70" y1="564.20" x2="292.50" y2="564.20" stroke="#000" stroke-width="1.2" stroke-linecap="butt"/>
<path d="M280.50 560.80 L287.30 567.60 M280.50 567.60 L287.30 560.80" stroke="#000" stroke-width="1.1" fill="none"/>
<text x="295.00" y="567.50" font-family='"Liberation Sans", sans-serif' font-size="12.1" font-weight="bold" text-anchor="start" fill="#000">Saline Control</text>
<text x="426.00" y="567.50" font-family='"Liberation Sans", sans-serif' font-size="12.1" font-weight="bold" text-anchor="middle" fill="#000">42</text>
<text x="487.60" y="567.50" font-family='"Liberation Sans", sans-serif' font-size="12.1" font-weight="bold" text-anchor="end" fill="#000">0/12</text>
<text x="297.00" y="507.60" font-family='"Liberation Sans", sans-serif' font-size="12.1" font-weight="bold" text-anchor="start" fill="#000">+ 15,500 IU rhIFN <tspan font-family='"Liberation Serif",serif' font-weight="normal" font-size="13.5">&#945;</tspan></text>
</g></svg></body></html>
